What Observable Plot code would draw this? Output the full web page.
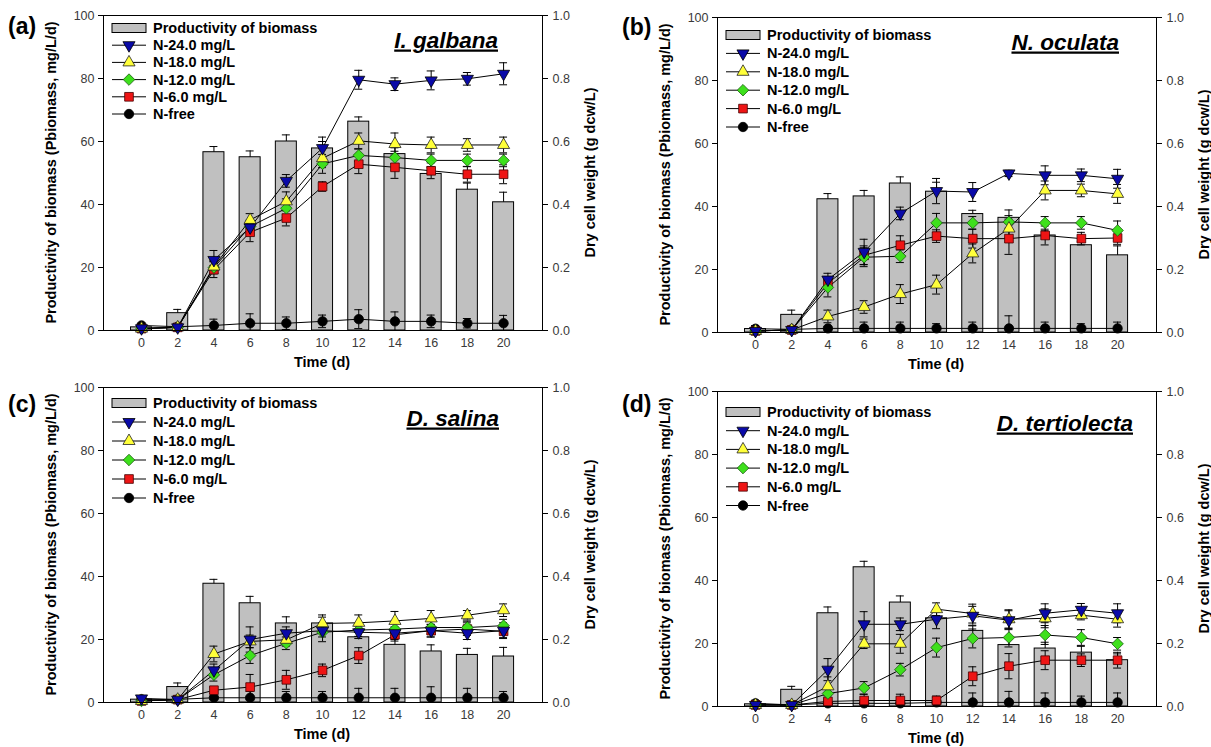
<!DOCTYPE html>
<html><head><meta charset="utf-8">
<script src="https://cdn.jsdelivr.net/npm/d3@7"></script>
<script src="https://cdn.jsdelivr.net/npm/@observablehq/plot@0.6"></script>
<style>
body{margin:0;background:#fff;}
#root{position:relative;width:1211px;height:747px;overflow:hidden;font-family:"Liberation Sans",Arial,sans-serif;background:#fff;}
.panel{position:absolute;}
</style></head><body><div id="root"></div>
<script>
// ---------- data ----------
const time = [0, 2, 4, 6, 8, 10, 12, 14, 16, 18, 20];
const seriesNames = ["N-24.0 mg/L", "N-18.0 mg/L", "N-12.0 mg/L", "N-6.0 mg/L", "N-free"];
const barName = "Productivity of biomass";
const panelLetters = ["(a)", "(b)", "(c)", "(d)"];
const speciesNames = ["I. galbana", "N. oculata", "D. salina", "D. tertiolecta"];
const yLeftTicks = [0, 20, 40, 60, 80, 100];
const yRightTicks = [0, 0.2, 0.4, 0.6, 0.8, 1.0];
const leftTitle = "Productivity of biomass (Pbiomass, mg/L/d)";
const rightTitle = "Dry cell weight (g dcw/L)";
const xTitle = "Time (d)";

// (a) I. galbana
const prodA    = [1.0, 5.5, 56.6, 55.0, 60.0, 57.8, 66.3, 56.0, 49.7, 44.7, 40.7];
const prodErrA = [0.5, 1.2, 1.8, 2.0, 2.1, 2.2, 1.5, 2.0, 2.0, 2.1, 3.2];
const n24A = [0.007, 0.010, 0.224, 0.327, 0.475, 0.579, 0.796, 0.782, 0.794, 0.799, 0.815];
const n18A = [0.006, 0.010, 0.203, 0.351, 0.410, 0.547, 0.602, 0.592, 0.589, 0.589, 0.589];
const n12A = [0.006, 0.010, 0.200, 0.330, 0.388, 0.529, 0.556, 0.549, 0.540, 0.540, 0.540];
const n6A  = [0.006, 0.010, 0.193, 0.312, 0.357, 0.457, 0.528, 0.518, 0.507, 0.496, 0.496];
const nfA  = [0.016, 0.012, 0.016, 0.023, 0.023, 0.029, 0.036, 0.029, 0.029, 0.023, 0.023];
const n24ErrA = [0.005, 0.01, 0.03, 0.02, 0.02, 0.035, 0.03, 0.02, 0.03, 0.02, 0.035];
const n18ErrA = [0.005, 0.01, 0.02, 0.02, 0.03, 0.03, 0.025, 0.035, 0.025, 0.02, 0.025];
const n12ErrA = [0.005, 0.01, 0.02, 0.02, 0.03, 0.03, 0.02, 0.02, 0.02, 0.02, 0.02];
const n6ErrA  = [0.005, 0.01, 0.025, 0.03, 0.025, 0.015, 0.03, 0.035, 0.025, 0.025, 0.03];
const nfErrA  = [0.005, 0.01, 0.02, 0.03, 0.02, 0.02, 0.03, 0.03, 0.02, 0.015, 0.025];

// (b) N. oculata
const prodB    = [1.1, 5.6, 42.3, 43.2, 47.3, 44.7, 37.6, 36.4, 30.8, 27.7, 24.5];
const prodErrB = [0.5, 1.5, 1.8, 1.9, 2.1, 3.0, 1.2, 2.5, 1.5, 1.2, 3.0];
const n24B = [0.005, 0.008, 0.168, 0.256, 0.378, 0.449, 0.446, 0.505, 0.499, 0.499, 0.488];
const n18B = [0.005, 0.008, 0.051, 0.081, 0.122, 0.152, 0.251, 0.330, 0.451, 0.451, 0.440];
const n12B = [0.005, 0.008, 0.143, 0.239, 0.242, 0.348, 0.348, 0.351, 0.348, 0.348, 0.324];
const n6B  = [0.005, 0.008, 0.157, 0.245, 0.277, 0.306, 0.298, 0.298, 0.308, 0.298, 0.300];
const nfB  = [0.012, 0.010, 0.013, 0.013, 0.013, 0.013, 0.013, 0.013, 0.013, 0.013, 0.013];
const n24ErrB = [0.005, 0.01, 0.02, 0.04, 0.02, 0.04, 0.03, 0.01, 0.03, 0.02, 0.03];
const n18ErrB = [0.005, 0.01, 0.02, 0.02, 0.03, 0.03, 0.03, 0.03, 0.03, 0.02, 0.03];
const n12ErrB = [0.005, 0.01, 0.03, 0.03, 0.02, 0.03, 0.02, 0.02, 0.02, 0.02, 0.03];
const n6ErrB  = [0.005, 0.01, 0.02, 0.03, 0.03, 0.02, 0.03, 0.05, 0.03, 0.02, 0.02];
const nfErrB  = [0.01, 0.01, 0.005, 0.02, 0.02, 0.015, 0.02, 0.04, 0.02, 0.015, 0.02];

// (c) D. salina
const prodC    = [0.9, 4.9, 37.7, 31.5, 25.1, 25.1, 20.7, 18.3, 16.2, 15.1, 14.6];
const prodErrC = [0.5, 1.3, 1.4, 2.2, 2.1, 2.7, 1.6, 1.9, 2.1, 2.1, 2.9];
const n24C = [0.013, 0.009, 0.102, 0.200, 0.220, 0.228, 0.223, 0.220, 0.228, 0.220, 0.228];
const n18C = [0.005, 0.009, 0.154, 0.194, 0.199, 0.251, 0.253, 0.259, 0.267, 0.277, 0.293];
const n12C = [0.005, 0.009, 0.088, 0.149, 0.188, 0.223, 0.230, 0.233, 0.238, 0.238, 0.244];
const n6C  = [0.005, 0.009, 0.039, 0.049, 0.072, 0.102, 0.149, 0.215, 0.228, 0.233, 0.226];
const nfC  = [0.010, 0.010, 0.015, 0.015, 0.015, 0.015, 0.015, 0.015, 0.015, 0.015, 0.015];
const n24ErrC = [0.005, 0.01, 0.02, 0.04, 0.02, 0.02, 0.02, 0.02, 0.02, 0.02, 0.025];
const n18ErrC = [0.005, 0.01, 0.025, 0.02, 0.02, 0.02, 0.025, 0.03, 0.025, 0.015, 0.02];
const n12ErrC = [0.005, 0.01, 0.02, 0.025, 0.02, 0.03, 0.02, 0.02, 0.02, 0.02, 0.02];
const n6ErrC  = [0.005, 0.01, 0.01, 0.04, 0.03, 0.02, 0.025, 0.02, 0.02, 0.02, 0.02];
const nfErrC  = [0.005, 0.01, 0.005, 0.02, 0.02, 0.02, 0.03, 0.03, 0.035, 0.03, 0.02];

// (d) D. tertiolecta
const prodD    = [0.7, 5.3, 29.6, 44.2, 33.0, 28.0, 24.0, 19.5, 18.4, 17.1, 14.7];
const prodErrD = [0.5, 1.1, 2.0, 1.9, 2.1, 2.0, 1.6, 2.0, 2.0, 2.0, 2.0];
const n24D = [0.005, 0.005, 0.117, 0.261, 0.261, 0.277, 0.288, 0.274, 0.296, 0.307, 0.296];
const n18D = [0.005, 0.005, 0.064, 0.199, 0.199, 0.309, 0.295, 0.277, 0.280, 0.290, 0.277];
const n12D = [0.005, 0.005, 0.041, 0.059, 0.117, 0.187, 0.216, 0.219, 0.227, 0.219, 0.199];
const n6D  = [0.005, 0.005, 0.016, 0.019, 0.019, 0.019, 0.096, 0.128, 0.147, 0.147, 0.147];
const nfD  = [0.010, 0.005, 0.010, 0.010, 0.010, 0.013, 0.013, 0.013, 0.013, 0.013, 0.013];
const n24ErrD = [0.005, 0.01, 0.035, 0.04, 0.02, 0.03, 0.03, 0.03, 0.03, 0.02, 0.03];
const n18ErrD = [0.005, 0.01, 0.03, 0.015, 0.03, 0.02, 0.03, 0.03, 0.03, 0.015, 0.025];
const n12ErrD = [0.005, 0.01, 0.02, 0.02, 0.02, 0.03, 0.03, 0.03, 0.03, 0.025, 0.02];
const n6ErrD  = [0.005, 0.01, 0.01, 0.02, 0.02, 0.01, 0.03, 0.04, 0.03, 0.02, 0.025];
const nfErrD  = [0.01, 0.01, 0.01, 0.01, 0.01, 0.02, 0.03, 0.035, 0.03, 0.02, 0.03];

// ---------- styles / layout ----------
const triangleDown = {
  draw(context, size) {
    const y = -Math.sqrt(size / (Math.sqrt(3) * 3));
    context.moveTo(0, -2 * y);
    context.lineTo(-Math.sqrt(3) * y, y);
    context.lineTo(Math.sqrt(3) * y, y);
    context.closePath();
  }
};
const seriesStyle = [
  {sym: triangleDown, d3sym: triangleDown, r: 4.5, fill: "#0a0aa8", stroke: "#000"},
  {sym: "triangle", d3sym: d3.symbolTriangle, r: 4.5, fill: "#ffff3a", stroke: "#222"},
  {sym: "diamond2", d3sym: d3.symbolDiamond2, r: 5.2, fill: "#3ee01c", stroke: "#1a5a10"},
  {sym: "square", d3sym: d3.symbolSquare, r: 4.9, fill: "#ee1515", stroke: "#400"},
  {sym: "circle", d3sym: d3.symbolCircle, r: 4.7, fill: "#000", stroke: "#000"}
];
const W = 597, H = 371, ML = 103, MR = 55, MT = 15, MB = 41;
const layout = [
  {left: 0,   top: 0,   titleRight: 44, titleBase: 32.5, legY: 13, legDy: 17.2, letterBase: 34},
  {left: 614, top: 2,   titleRight: 37, titleBase: 32.5, legY: 18, legDy: 18.4, letterBase: 33},
  {left: 0,   top: 372, titleRight: 43, titleBase: 38.5, legY: 16, legDy: 19.0, letterBase: 40},
  {left: 614, top: 376, titleRight: 23, titleBase: 39.5, legY: 21, legDy: 18.7, letterBase: 36}
];
const panelData = [
  {prod: prodA, prodErr: prodErrA, lines: [n24A, n18A, n12A, n6A, nfA], errs: [n24ErrA, n18ErrA, n12ErrA, n6ErrA, nfErrA]},
  {prod: prodB, prodErr: prodErrB, lines: [n24B, n18B, n12B, n6B, nfB], errs: [n24ErrB, n18ErrB, n12ErrB, n6ErrB, nfErrB]},
  {prod: prodC, prodErr: prodErrC, lines: [n24C, n18C, n12C, n6C, nfC], errs: [n24ErrC, n18ErrC, n12ErrC, n6ErrC, nfErrC]},
  {prod: prodD, prodErr: prodErrD, lines: [n24D, n18D, n12D, n6D, nfD], errs: [n24ErrD, n18ErrD, n12ErrD, n6ErrD, nfErrD]}
];

const root = document.getElementById("root");
const halfBar = 0.58, cap = 0.22;

panelData.forEach((p, pi) => {
  const L = layout[pi];
  const rows = time.map((t, i) => ({t, prod: p.prod[i], err: p.prodErr[i]}));
  const series = p.lines.map((vals, k) => time.map((t, i) => ({t, v: vals[i], e: p.errs[k][i], k})));
  const all = series.flat();
  const lo = d => Math.max(0, (d.v - d.e) * 100);
  const hi = d => (d.v + d.e) * 100;
  const marks = [
    Plot.rect(rows, {x1: d => d.t - halfBar, x2: d => d.t + halfBar, y1: 0, y2: "prod", fill: "#c0c0c0", stroke: "#000", strokeWidth: 1}),
    Plot.ruleX(rows, {x: "t", y1: "prod", y2: d => d.prod + d.err, stroke: "#000", strokeWidth: 1}),
    Plot.ruleY(rows, {y: d => d.prod + d.err, x1: d => d.t - cap, x2: d => d.t + cap, stroke: "#000", strokeWidth: 1}),
    ...series.slice().reverse().map(s => Plot.line(s, {x: "t", y: d => d.v * 100, stroke: "#000", strokeWidth: 1})),
    Plot.ruleX(all, {x: "t", y1: lo, y2: hi, stroke: "#000", strokeWidth: 1}),
    Plot.ruleY(all, {y: lo, x1: d => d.t - cap, x2: d => d.t + cap, stroke: "#000", strokeWidth: 1}),
    Plot.ruleY(all, {y: hi, x1: d => d.t - cap, x2: d => d.t + cap, stroke: "#000", strokeWidth: 1}),
    ...series.map((s, k) => ({s, k})).reverse().map(({s, k}) => {
      const st = seriesStyle[k];
      return Plot.dot(s, {x: "t", y: d => d.v * 100, symbol: st.sym, r: st.r, fill: st.fill, stroke: st.stroke, strokeWidth: 0.8});
    }),
    Plot.frame({stroke: "#000", strokeWidth: 1}),
    Plot.axisX({ticks: time, tickSize: 0, tickPadding: 8, label: null}),
    Plot.axisY({anchor: "left", ticks: yLeftTicks, tickSize: 5, tickPadding: 4, label: null}),
    Plot.axisY({anchor: "right", ticks: yRightTicks.map(v => v * 100), tickFormat: d => (d / 100).toFixed(1), tickSize: 5, tickPadding: 5, label: null})
  ];
  const svgNode = Plot.plot({
    width: W, height: H,
    marginLeft: ML, marginRight: MR, marginTop: MT, marginBottom: MB,
    x: {type: "linear", domain: [-2.1, 22.15]},
    y: {type: "linear", domain: [0, 100]},
    style: {fontFamily: "'Liberation Sans', Arial, sans-serif", fontSize: "12.5px", color: "#000", background: "transparent", overflow: "visible"},
    marks
  });
  const wrap = document.createElement("div");
  wrap.className = "panel";
  wrap.style.left = L.left + "px";
  wrap.style.top = L.top + "px";
  wrap.appendChild(svgNode);
  root.appendChild(wrap);

  const svg = d3.select(svgNode);
  svg.selectAll('g[aria-label$="tick label"]').attr("fill", "#3a3a3a");
  const midY = MT + (H - MT - MB) / 2;
  const font = "'Liberation Sans', Arial, sans-serif";
  const t = svg.append("g").attr("font-family", font).attr("font-weight", "bold").attr("fill", "#000");
  t.append("text").attr("transform", `translate(${ML - 52},${midY}) rotate(-90)`)
    .attr("text-anchor", "middle").attr("dominant-baseline", "central").attr("font-size", "14.5px").text(leftTitle);
  t.append("text").attr("transform", `translate(${W - MR + 48},${midY}) rotate(-90)`)
    .attr("text-anchor", "middle").attr("dominant-baseline", "central").attr("font-size", "14.5px").text(rightTitle);
  t.append("text").attr("x", 322).attr("y", H - MB + 32).attr("text-anchor", "middle")
    .attr("dominant-baseline", "central").attr("font-size", "14.5px").text(xTitle);
  t.append("text").attr("x", 8).attr("y", L.letterBase).attr("text-anchor", "start").attr("font-size", "23px").text(panelLetters[pi]);
  t.append("text").attr("x", W - MR - L.titleRight).attr("y", MT + L.titleBase).attr("text-anchor", "end")
    .attr("font-size", "22.5px").attr("font-style", "italic").attr("text-decoration", "underline").text(speciesNames[pi]);

  // legend
  const g = svg.append("g").attr("font-family", font).attr("font-weight", "bold").attr("font-size", "14.5px").attr("text-anchor", "start");
  const lx1 = ML + 9, lx2 = ML + 43, tx = ML + 50, y0 = MT + L.legY;
  g.append("rect").attr("x", lx1).attr("y", y0 - 4.5).attr("width", lx2 - lx1).attr("height", 9)
    .attr("fill", "#c0c0c0").attr("stroke", "#000");
  g.append("text").attr("x", tx).attr("y", y0).attr("dominant-baseline", "central").text(barName);
  seriesNames.forEach((name, k) => {
    const st = seriesStyle[k];
    const y = y0 + (k + 1) * L.legDy;
    g.append("line").attr("x1", lx1).attr("x2", lx2).attr("y1", y).attr("y2", y).attr("stroke", "#000");
    g.append("path").attr("transform", `translate(${(lx1 + lx2) / 2},${y})`)
      .attr("d", d3.symbol(st.d3sym, Math.PI * st.r * st.r)())
      .attr("fill", st.fill).attr("stroke", st.stroke).attr("stroke-width", 0.8);
    g.append("text").attr("x", tx).attr("y", y).attr("dominant-baseline", "central").text(name);
  });
});
</script>
</body></html>
